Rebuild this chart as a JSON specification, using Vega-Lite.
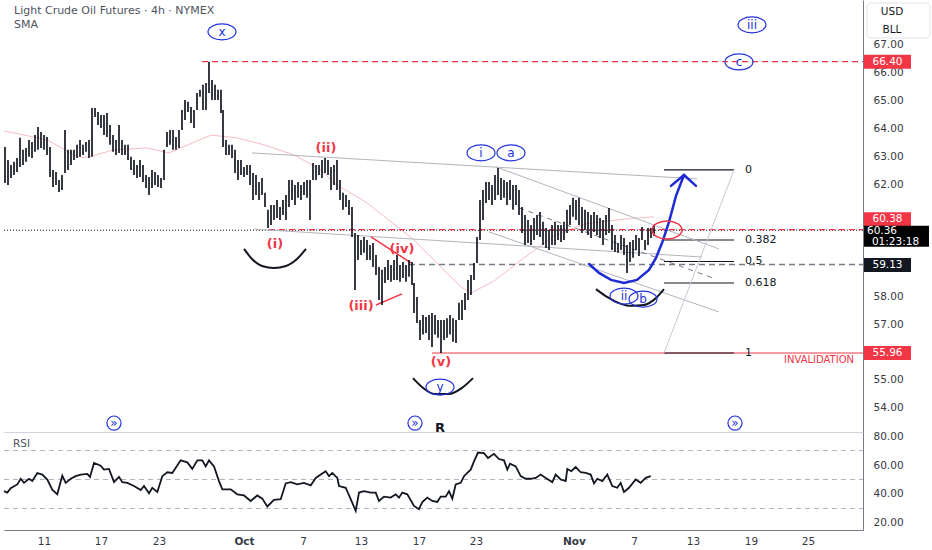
{
"$schema":"https://vega.github.io/schema/vega-lite/v6.json",
"padding":0,
"autosize":{"type":"pad"},
"background":"white",
"bounds":"flush",
"spacing":0,
"config":{"view":{"stroke":null},"axis":{"labelFont":"DejaVu Sans","labelFontSize":10.5,"labelColor":"#363a45"},"text":{"font":"DejaVu Sans"}},
"datasets":{
"bars":[
{"t":0.1,"p":62.05,"p2":63.34},{"t":0.4,"p":61.98,"p2":62.88},{"t":0.7,"p":62.23,"p2":62.70},{"t":1.0,"p":62.34,"p2":62.81},{"t":1.3,"p":62.45,"p2":62.95},{"t":1.6,"p":62.63,"p2":63.67},{"t":1.9,"p":62.70,"p2":63.24},{"t":2.2,"p":62.81,"p2":63.31},{"t":2.5,"p":62.99,"p2":63.59},{"t":2.8,"p":62.95,"p2":63.52},{"t":3.1,"p":63.17,"p2":63.77},{"t":3.4,"p":63.24,"p2":64.06},{"t":3.7,"p":63.31,"p2":63.88},{"t":4.0,"p":63.24,"p2":63.77},{"t":4.3,"p":63.06,"p2":63.70},{"t":4.6,"p":62.27,"p2":63.34},{"t":4.9,"p":61.91,"p2":62.52},{"t":5.2,"p":61.98,"p2":62.45},{"t":5.5,"p":61.73,"p2":62.16},{"t":5.8,"p":61.80,"p2":62.34},
{"t":6.1,"p":62.41,"p2":63.95},{"t":6.4,"p":62.52,"p2":63.24},{"t":6.7,"p":62.70,"p2":63.24},{"t":7.0,"p":62.88,"p2":63.24},{"t":7.3,"p":62.95,"p2":63.42},{"t":7.6,"p":62.99,"p2":63.59},{"t":7.9,"p":63.06,"p2":63.42},{"t":8.2,"p":63.17,"p2":63.52},{"t":8.5,"p":62.95,"p2":63.59},{"t":8.8,"p":62.99,"p2":64.74},
{"t":9.1,"p":64.42,"p2":64.74},{"t":9.4,"p":64.13,"p2":64.60},{"t":9.7,"p":64.02,"p2":64.49},{"t":10.0,"p":63.77,"p2":64.49},{"t":10.3,"p":63.70,"p2":64.56},{"t":10.6,"p":63.42,"p2":64.13},{"t":10.9,"p":63.17,"p2":63.77},{"t":11.2,"p":63.06,"p2":63.59},{"t":11.5,"p":63.13,"p2":64.13},{"t":11.8,"p":63.06,"p2":63.59},{"t":12.1,"p":63.06,"p2":63.42},{"t":12.4,"p":62.88,"p2":63.42},{"t":12.7,"p":62.52,"p2":62.99},{"t":13.0,"p":62.34,"p2":62.88},{"t":13.3,"p":62.23,"p2":62.70},{"t":13.6,"p":62.27,"p2":62.88},{"t":13.9,"p":62.09,"p2":62.70},{"t":14.2,"p":61.87,"p2":62.34},{"t":14.5,"p":61.62,"p2":62.27},{"t":14.8,"p":61.87,"p2":62.52},{"t":15.1,"p":61.98,"p2":62.45},{"t":15.4,"p":61.91,"p2":62.34},{"t":15.7,"p":61.87,"p2":62.23},
{"t":16.0,"p":62.16,"p2":63.24},{"t":16.3,"p":63.34,"p2":63.88},{"t":16.6,"p":63.42,"p2":63.95},{"t":16.9,"p":63.24,"p2":63.95},{"t":17.2,"p":63.24,"p2":63.70},{"t":17.5,"p":63.31,"p2":63.95},{"t":17.8,"p":63.95,"p2":64.67},{"t":18.1,"p":64.31,"p2":65.03},{"t":18.4,"p":64.60,"p2":64.96},{"t":18.7,"p":64.20,"p2":64.78},{"t":19.0,"p":64.02,"p2":64.67},{"t":19.3,"p":64.67,"p2":65.28},{"t":19.6,"p":65.14,"p2":65.39},{"t":19.9,"p":64.67,"p2":65.57},{"t":20.2,"p":64.67,"p2":65.64},{"t":20.5,"p":65.28,"p2":66.40},
{"t":20.8,"p":65.03,"p2":65.74},{"t":21.1,"p":65.03,"p2":65.57},{"t":21.4,"p":65.03,"p2":65.39},{"t":21.7,"p":64.56,"p2":65.39},{"t":21.9,"p":63.34,"p2":64.67},{"t":22.2,"p":63.06,"p2":63.59},{"t":22.5,"p":63.06,"p2":63.42},{"t":22.8,"p":62.95,"p2":63.42},{"t":23.1,"p":62.41,"p2":63.24},{"t":23.4,"p":62.16,"p2":62.88},{"t":23.7,"p":62.34,"p2":62.88},{"t":24.0,"p":62.27,"p2":62.63},{"t":24.3,"p":62.34,"p2":62.70},{"t":24.6,"p":61.98,"p2":62.70},{"t":24.9,"p":61.44,"p2":62.41},{"t":25.2,"p":61.62,"p2":62.34},{"t":25.5,"p":61.44,"p2":62.09},{"t":25.8,"p":61.62,"p2":62.23},{"t":26.1,"p":61.19,"p2":61.70},{"t":26.4,"p":60.44,"p2":61.09},{"t":26.7,"p":60.55,"p2":61.26},
{"t":27.0,"p":60.73,"p2":61.26},{"t":27.3,"p":60.80,"p2":61.44},{"t":27.6,"p":60.73,"p2":61.19},{"t":27.9,"p":60.91,"p2":61.44},{"t":28.2,"p":60.73,"p2":61.62},{"t":28.5,"p":61.19,"p2":62.16},{"t":28.8,"p":61.44,"p2":62.16},{"t":29.1,"p":61.26,"p2":61.98},{"t":29.4,"p":61.52,"p2":62.09},{"t":29.7,"p":61.44,"p2":61.98},{"t":30.0,"p":61.62,"p2":62.09},{"t":30.3,"p":61.52,"p2":62.16},{"t":30.6,"p":60.73,"p2":62.16},{"t":30.9,"p":62.16,"p2":62.77},{"t":31.2,"p":62.16,"p2":62.70},{"t":31.5,"p":62.34,"p2":62.70},{"t":31.8,"p":62.23,"p2":62.88},{"t":32.1,"p":62.41,"p2":62.95},{"t":32.4,"p":62.34,"p2":62.88},{"t":32.7,"p":61.80,"p2":62.63},
{"t":33.0,"p":61.98,"p2":62.70},{"t":33.3,"p":61.80,"p2":62.88},{"t":33.6,"p":61.44,"p2":62.16},{"t":33.9,"p":61.09,"p2":61.70},{"t":34.2,"p":61.19,"p2":61.62},{"t":34.5,"p":60.91,"p2":61.44},{"t":34.8,"p":60.12,"p2":61.19},{"t":35.1,"p":58.22,"p2":60.26},{"t":35.4,"p":59.29,"p2":60.19},{"t":35.7,"p":59.47,"p2":60.01},{"t":36.0,"p":59.55,"p2":60.12},{"t":36.3,"p":59.29,"p2":60.01},{"t":36.6,"p":59.29,"p2":59.83},{"t":36.9,"p":59.04,"p2":59.90},{"t":37.2,"p":58.76,"p2":59.47},{"t":37.5,"p":57.86,"p2":59.04},{"t":37.8,"p":57.68,"p2":58.94},{"t":38.1,"p":58.47,"p2":59.04},{"t":38.4,"p":58.58,"p2":59.29},{"t":38.7,"p":58.51,"p2":59.11},{"t":39.0,"p":58.58,"p2":59.29},{"t":39.3,"p":58.58,"p2":59.47},{"t":39.6,"p":58.51,"p2":59.11},{"t":39.9,"p":58.65,"p2":59.22},{"t":40.2,"p":58.51,"p2":59.11},{"t":40.5,"p":58.69,"p2":59.29},{"t":40.8,"p":58.40,"p2":59.22},{"t":41.0,"p":57.39,"p2":58.47},
{"t":41.3,"p":57.04,"p2":57.97},{"t":41.6,"p":56.43,"p2":57.14},{"t":41.9,"p":56.62,"p2":57.32},{"t":42.2,"p":56.68,"p2":57.25},{"t":42.5,"p":56.43,"p2":57.32},{"t":42.8,"p":56.18,"p2":57.39},{"t":43.1,"p":56.62,"p2":57.32},{"t":43.4,"p":56.51,"p2":57.14},{"t":43.7,"p":55.96,"p2":57.14},{"t":44.0,"p":56.43,"p2":57.14},{"t":44.3,"p":56.51,"p2":57.21},{"t":44.6,"p":56.62,"p2":57.32},{"t":44.9,"p":56.36,"p2":57.21},{"t":45.2,"p":56.32,"p2":57.14},{"t":45.5,"p":57.14,"p2":57.76},{"t":45.8,"p":57.14,"p2":57.86},{"t":46.1,"p":57.50,"p2":58.11},{"t":46.4,"p":57.86,"p2":58.58},{"t":46.7,"p":58.04,"p2":58.76},{"t":47.0,"p":58.58,"p2":59.19},{"t":47.3,"p":59.19,"p2":60.12},
{"t":47.6,"p":60.01,"p2":61.44},{"t":47.9,"p":60.73,"p2":61.80},{"t":48.2,"p":61.34,"p2":62.09},{"t":48.5,"p":61.44,"p2":62.09},{"t":48.8,"p":61.26,"p2":61.98},{"t":49.1,"p":61.44,"p2":62.34},{"t":49.4,"p":61.62,"p2":62.59},{"t":49.7,"p":61.44,"p2":62.23},{"t":50.0,"p":61.52,"p2":62.16},{"t":50.3,"p":61.26,"p2":62.09},{"t":50.6,"p":61.44,"p2":62.16},{"t":50.9,"p":61.09,"p2":61.98},{"t":51.2,"p":61.26,"p2":61.98},{"t":51.5,"p":60.91,"p2":61.80},{"t":51.8,"p":60.26,"p2":61.19},{"t":52.1,"p":59.83,"p2":60.91},
{"t":52.4,"p":59.90,"p2":60.73},{"t":52.7,"p":59.83,"p2":60.55},{"t":53.0,"p":60.01,"p2":60.80},{"t":53.3,"p":60.19,"p2":60.91},{"t":53.6,"p":60.12,"p2":61.01},{"t":53.9,"p":59.83,"p2":60.66},{"t":54.2,"p":59.72,"p2":60.44},{"t":54.5,"p":59.65,"p2":60.37},{"t":54.8,"p":59.83,"p2":60.55},{"t":55.1,"p":59.83,"p2":60.66},{"t":55.4,"p":60.01,"p2":60.55},{"t":55.7,"p":59.94,"p2":60.55},{"t":56.0,"p":60.01,"p2":60.66},{"t":56.3,"p":60.26,"p2":61.09},{"t":56.6,"p":60.55,"p2":61.26},{"t":56.9,"p":60.84,"p2":61.52},{"t":57.2,"p":60.73,"p2":61.44},{"t":57.5,"p":60.55,"p2":61.52},{"t":57.8,"p":60.26,"p2":61.19},{"t":58.1,"p":60.37,"p2":61.09},{"t":58.4,"p":60.19,"p2":61.01},{"t":58.7,"p":60.08,"p2":60.91},{"t":59.0,"p":60.30,"p2":61.01},{"t":59.3,"p":60.19,"p2":60.91},{"t":59.6,"p":60.08,"p2":60.80},{"t":59.9,"p":59.83,"p2":60.73},{"t":60.2,"p":60.19,"p2":60.91},{"t":60.5,"p":60.26,"p2":61.16},{"t":60.8,"p":59.65,"p2":60.55},{"t":61.1,"p":59.58,"p2":60.19},{"t":61.4,"p":59.55,"p2":59.90},{"t":61.7,"p":59.65,"p2":60.19},{"t":62.0,"p":59.47,"p2":60.08},{"t":62.3,"p":58.83,"p2":59.83},{"t":62.6,"p":59.22,"p2":59.94},{"t":62.9,"p":59.37,"p2":60.01},{"t":63.2,"p":59.65,"p2":60.19},{"t":63.5,"p":59.44,"p2":60.08},{"t":63.8,"p":60.01,"p2":60.48},{"t":64.1,"p":59.65,"p2":60.01},{"t":64.4,"p":59.83,"p2":60.44},{"t":64.7,"p":60.08,"p2":60.44},{"t":65.0,"p":60.15,"p2":60.55}
],
"sma":[
{"t":0,"p":63.92},{"t":4.3,"p":63.60},{"t":7.0,"p":63.06},{"t":8.0,"p":62.95},{"t":11.0,"p":63.24},{"t":14.3,"p":63.31},{"t":16.5,"p":63.13},{"t":20.7,"p":63.77},{"t":23.3,"p":63.67},{"t":26.0,"p":63.42},{"t":29.0,"p":63.06},{"t":31.7,"p":62.52},{"t":33.0,"p":62.05},{"t":36.3,"p":61.34},{"t":41.0,"p":60.01},{"t":45.7,"p":58.33},{"t":46.7,"p":58.11},{"t":49.0,"p":58.54},{"t":52.0,"p":59.37},{"t":55.0,"p":60.15},{"t":58.0,"p":60.58},{"t":62.0,"p":60.76},{"t":65.0,"p":60.84}
],
"rsi":[
{"t":0,"v":42},{"t":0.33,"v":41},{"t":0.67,"v":44},{"t":1.33,"v":46.6},{"t":1.67,"v":50.5},{"t":2.0,"v":47.7},{"t":2.5,"v":50.5},{"t":2.83,"v":49},{"t":3.33,"v":54.5},{"t":3.83,"v":53.4},{"t":4.33,"v":50},{"t":4.83,"v":43},{"t":5.33,"v":39.8},{"t":5.83,"v":52.7},{"t":6.17,"v":47.7},{"t":6.67,"v":50.5},{"t":7.17,"v":52.3},{"t":7.67,"v":53.4},{"t":8.33,"v":53.9},{"t":8.6,"v":51.8},{"t":9.0,"v":61.4},{"t":9.67,"v":59.5},{"t":10.0,"v":56.8},{"t":10.5,"v":57.3},{"t":11.0,"v":48.2},{"t":11.5,"v":51.8},{"t":11.83,"v":48.2},{"t":12.33,"v":47.7},{"t":13.0,"v":45.5},{"t":13.67,"v":42.7},{"t":14.0,"v":45.5},{"t":14.5,"v":40.5},{"t":14.83,"v":44.3},{"t":15.33,"v":41.4},{"t":15.83,"v":52.3},{"t":16.33,"v":55},{"t":16.83,"v":54.5},{"t":17.67,"v":63.2},{"t":18.33,"v":61.8},{"t":18.83,"v":57.3},{"t":19.33,"v":63.2},{"t":19.83,"v":63.2},{"t":20.17,"v":59},{"t":20.5,"v":63.2},{"t":21.0,"v":59},{"t":21.5,"v":48.9},{"t":21.83,"v":43.2},{"t":22.67,"v":43.2},{"t":23.33,"v":39.8},{"t":24.0,"v":39},{"t":24.67,"v":35.2},{"t":25.33,"v":39},{"t":25.83,"v":36.8},{"t":26.33,"v":31.4},{"t":27.0,"v":35.9},{"t":27.67,"v":36.4},{"t":28.17,"v":47.3},{"t":28.67,"v":48.2},{"t":29.33,"v":46.6},{"t":30.0,"v":47.7},{"t":30.67,"v":45.9},{"t":31.17,"v":51.1},{"t":31.67,"v":53.4},{"t":32.17,"v":55.7},{"t":32.5,"v":52.3},{"t":32.83,"v":54.5},{"t":33.33,"v":51.1},{"t":33.5,"v":45.5},{"t":34.17,"v":44.3},{"t":34.67,"v":36.4},{"t":35.17,"v":28.4},{"t":35.5,"v":41},{"t":36.0,"v":42},{"t":36.67,"v":41},{"t":37.17,"v":41},{"t":37.5,"v":35.2},{"t":38.0,"v":38.2},{"t":38.67,"v":37.5},{"t":39.17,"v":39.8},{"t":39.5,"v":37.5},{"t":39.83,"v":41},{"t":40.33,"v":39.8},{"t":41.0,"v":31.8},{"t":41.5,"v":29.5},{"t":41.83,"v":34.5},{"t":42.33,"v":37.5},{"t":42.83,"v":35.2},{"t":43.33,"v":34.5},{"t":43.67,"v":38.2},{"t":44.17,"v":38.2},{"t":44.5,"v":42},{"t":44.83,"v":36.8},{"t":45.17,"v":46.6},{"t":45.67,"v":47.7},{"t":46.0,"v":52.3},{"t":46.33,"v":54.5},{"t":46.67,"v":56.8},{"t":47.0,"v":62.5},{"t":47.4,"v":68.6},{"t":48.0,"v":68.2},{"t":48.4,"v":64.8},{"t":49.0,"v":67.7},{"t":49.5,"v":64.1},{"t":50.0,"v":63.2},{"t":50.33,"v":56.8},{"t":50.6,"v":60.9},{"t":51.17,"v":59},{"t":51.67,"v":52.3},{"t":52.17,"v":50.5},{"t":52.67,"v":50.5},{"t":53.17,"v":51.1},{"t":53.67,"v":53.4},{"t":54.17,"v":51.1},{"t":54.83,"v":48.2},{"t":55.17,"v":53.4},{"t":55.67,"v":50},{"t":56.17,"v":48.9},{"t":56.33,"v":57.3},{"t":56.73,"v":55.7},{"t":57.17,"v":58.6},{"t":57.67,"v":55},{"t":58.17,"v":54.5},{"t":58.67,"v":53.4},{"t":59.0,"v":47.3},{"t":59.33,"v":50.5},{"t":59.83,"v":48.9},{"t":60.33,"v":53.4},{"t":60.83,"v":45.5},{"t":61.33,"v":44.3},{"t":61.67,"v":47.7},{"t":62.0,"v":41.4},{"t":62.5,"v":44.3},{"t":63.17,"v":50},{"t":63.67,"v":47.7},{"t":64.17,"v":51.1},{"t":64.67,"v":52.3}
],
"hl":[
{"kind":"reddash","t":19.8,"t2":85.9,"p":66.40},
{"kind":"blackdot","t":0,"t2":85.9,"p":60.36},
{"kind":"reddash","t":26.5,"t2":85.9,"p":60.38},
{"kind":"greydash","t":40.5,"t2":85.9,"p":59.13},
{"kind":"redsolid","t":42.8,"t2":85.9,"p":55.96},
{"kind":"fib","t":66.0,"t2":73.0,"p":62.52},
{"kind":"fib","t":66.0,"t2":73.0,"p":60.01},
{"kind":"fib","t":66.0,"t2":73.0,"p":59.24},
{"kind":"fib","t":66.0,"t2":73.0,"p":58.47},
{"kind":"fib","t":66.0,"t2":73.0,"p":55.96}
],
"seg":[
{"kind":"grey","t":24.8,"p":63.13,"t2":69.3,"p2":62.20},
{"kind":"grey","t":25.0,"p":60.40,"t2":69.8,"p2":59.40},
{"kind":"grey","t":49.2,"p":62.63,"t2":71.5,"p2":59.69},
{"kind":"grey","t":48.5,"p":60.30,"t2":71.5,"p2":57.43},
{"kind":"diag","t":66.0,"p":55.96,"t2":73.0,"p2":62.52},
{"kind":"greyd","t":51.5,"p":61.16,"t2":71.2,"p2":58.61},
{"kind":"red","t":36.7,"p":60.12,"t2":40.7,"p2":59.19},
{"kind":"red","t":37.2,"p":57.68,"t2":39.8,"p2":58.08}
],
"paths":[
{"kind":"black","id":"a1","k":1,"t":24.0,"p":59.69},{"kind":"black","id":"a1","k":2,"t":24.8,"p":59.33},{"kind":"black","id":"a1","k":3,"t":25.8,"p":59.08},{"kind":"black","id":"a1","k":4,"t":27.0,"p":59.01},{"kind":"black","id":"a1","k":5,"t":28.2,"p":59.08},{"kind":"black","id":"a1","k":6,"t":29.3,"p":59.33},{"kind":"black","id":"a1","k":7,"t":30.2,"p":59.69},
{"kind":"black","id":"a2","k":1,"t":40.9,"p":55.06},{"kind":"black","id":"a2","k":2,"t":41.9,"p":54.71},{"kind":"black","id":"a2","k":3,"t":43.1,"p":54.49},{"kind":"black","id":"a2","k":4,"t":44.5,"p":54.49},{"kind":"black","id":"a2","k":5,"t":45.8,"p":54.71},{"kind":"black","id":"a2","k":6,"t":46.9,"p":55.06},
{"kind":"black","id":"a3","k":1,"t":59.2,"p":58.25},{"kind":"black","id":"a3","k":2,"t":60.3,"p":57.97},{"kind":"black","id":"a3","k":3,"t":61.5,"p":57.75},{"kind":"black","id":"a3","k":4,"t":62.7,"p":57.65},{"kind":"black","id":"a3","k":5,"t":64.0,"p":57.68},{"kind":"black","id":"a3","k":6,"t":65.1,"p":57.90},{"kind":"black","id":"a3","k":7,"t":66.0,"p":58.25},
{"kind":"blue","id":"b1","k":1,"t":58.5,"p":59.15},{"kind":"blue","id":"b1","k":2,"t":59.5,"p":58.83},{"kind":"blue","id":"b1","k":3,"t":60.7,"p":58.58},{"kind":"blue","id":"b1","k":4,"t":62.0,"p":58.47},{"kind":"blue","id":"b1","k":5,"t":63.3,"p":58.58},{"kind":"blue","id":"b1","k":6,"t":64.5,"p":58.94},{"kind":"blue","id":"b1","k":7,"t":65.2,"p":59.37},{"kind":"blue","id":"b1","k":8,"t":65.8,"p":59.90},{"kind":"blue","id":"b1","k":9,"t":66.5,"p":60.66},{"kind":"blue","id":"b1","k":10,"t":67.2,"p":61.59},{"kind":"blue","id":"b1","k":11,"t":68.0,"p":62.34},
{"kind":"blue","id":"b2","k":1,"t":66.7,"p":61.95},{"kind":"blue","id":"b2","k":2,"t":68.0,"p":62.34},{"kind":"blue","id":"b2","k":3,"t":69.2,"p":61.95}
],
"blue":[
{"t":21.8,"p":67.47,"s":"x"},{"t":74.8,"p":67.72,"s":"iii"},{"t":73.5,"p":66.39,"s":"c"},{"t":47.7,"p":63.13,"s":"i"},{"t":50.7,"p":63.13,"s":"a"},{"t":43.6,"p":54.74,"s":"y"},{"t":62.0,"p":58.00,"s":"ii"},{"t":63.9,"p":57.89,"s":"b"}
],
"red":[
{"t":27.1,"p":59.87,"s":"(i)"},{"t":32.2,"p":63.31,"s":"(ii)"},{"t":35.7,"p":57.65,"s":"(iii)"},{"t":39.8,"p":59.69,"s":"(iv)"},{"t":43.7,"p":55.64,"s":"(v)"}
],
"fib":[
{"t":74.1,"p":62.52,"s":"0"},{"t":74.1,"p":60.01,"s":"0.382"},{"t":74.1,"p":59.24,"s":"0.5"},{"t":74.1,"p":58.47,"s":"0.618"},{"t":74.1,"p":55.96,"s":"1"}
],
"notes":[
{"t":1.0,"p":68.22,"s":"Light Crude Oil Futures · 4h · NYMEX"},{"t":1.0,"p":67.70,"s":"SMA"}
],
"icons":[{"t":11.0,"p":53.45},{"t":41.1,"p":53.45},{"t":73.1,"p":53.45}],
"tagbox":[
{"kind":"red","t":88.35,"p":66.40},{"kind":"red","t":88.35,"p":60.75},{"kind":"red","t":88.35,"p":55.96},{"kind":"dark","t":88.35,"p":59.11},{"kind":"black","t":89.25,"p":60.14}
],
"tagtext":[
{"t":88.35,"p":66.40,"s":"66.40"},{"t":88.35,"p":60.75,"s":"60.38"},{"t":88.35,"p":55.96,"s":"55.96"},{"t":88.35,"p":59.11,"s":"59.13"},{"t":87.8,"p":60.33,"s":"60.36"},{"t":89.15,"p":59.94,"s":"01:23:18"}
]
},
"vconcat":[
{
"width":859,"height":432,
"encoding":{
"x":{"field":"t","type":"quantitative","scale":{"domain":[0,85.9],"nice":false,"zero":false},"axis":{"labels":false,"ticks":false,"grid":false,"domainColor":"#d1d4dc","title":null}},
"y":{"field":"p","type":"quantitative","scale":{"domain":[53.13,68.61],"nice":false,"zero":false},"axis":{"orient":"right","values":[54,55,57,58,62,63,64,65,66,67],"format":".2f","ticks":false,"grid":false,"labelPadding":10,"domainColor":"#787b86","title":null}}
},
"layer":[
{"data":{"name":"sma"},"mark":{"type":"line","color":"#f2a0a8","strokeWidth":1,"opacity":0.7}},
{"data":{"name":"hl"},"transform":[{"filter":"datum.kind=='blackdot'"}],"mark":{"type":"rule","color":"#131722","strokeDash":[1,2],"strokeWidth":1},"encoding":{"x2":{"field":"t2"}}},
{"data":{"name":"hl"},"transform":[{"filter":"datum.kind=='reddash'"}],"mark":{"type":"rule","color":"#f23645","strokeDash":[6,4],"strokeWidth":1.2},"encoding":{"x2":{"field":"t2"}}},
{"data":{"name":"hl"},"transform":[{"filter":"datum.kind=='greydash'"}],"mark":{"type":"rule","color":"#787b86","strokeDash":[6,4],"strokeWidth":1.5},"encoding":{"x2":{"field":"t2"}}},
{"data":{"name":"hl"},"transform":[{"filter":"datum.kind=='redsolid'"}],"mark":{"type":"rule","color":"#f23645","strokeWidth":1},"encoding":{"x2":{"field":"t2"}}},
{"data":{"name":"hl"},"transform":[{"filter":"datum.kind=='fib'"}],"mark":{"type":"rule","color":"#131722","strokeWidth":1.2},"encoding":{"x2":{"field":"t2"}}},
{"data":{"name":"seg"},"transform":[{"filter":"datum.kind=='grey'"}],"mark":{"type":"rule","color":"#b2b5be","strokeWidth":1},"encoding":{"x2":{"field":"t2"},"y2":{"field":"p2"}}},
{"data":{"name":"seg"},"transform":[{"filter":"datum.kind=='diag'"}],"mark":{"type":"rule","color":"#c8cad0","strokeWidth":1},"encoding":{"x2":{"field":"t2"},"y2":{"field":"p2"}}},
{"data":{"name":"seg"},"transform":[{"filter":"datum.kind=='greyd'"}],"mark":{"type":"rule","color":"#787b86","strokeDash":[5,5],"strokeWidth":1},"encoding":{"x2":{"field":"t2"},"y2":{"field":"p2"}}},
{"data":{"name":"seg"},"transform":[{"filter":"datum.kind=='red'"}],"mark":{"type":"rule","color":"#f23645","strokeWidth":1.5},"encoding":{"x2":{"field":"t2"},"y2":{"field":"p2"}}},
{"data":{"name":"bars"},"mark":{"type":"rule","color":"#131722","strokeWidth":1.7},"encoding":{"y2":{"field":"p2"}}},
{"data":{"name":"paths"},"transform":[{"filter":"datum.kind=='black'"}],"mark":{"type":"line","color":"#131722","strokeWidth":2,"interpolate":"monotone"},"encoding":{"detail":{"field":"id"},"order":{"field":"k","type":"quantitative"}}},
{"data":{"name":"paths"},"transform":[{"filter":"datum.kind=='blue'"}],"mark":{"type":"line","color":"#1f2bd6","strokeWidth":2.5,"strokeCap":"round"},"encoding":{"detail":{"field":"id"},"order":{"field":"k","type":"quantitative"}}},
{"data":{"name":"blue"},"mark":{"type":"point","shape":"M-1.75,0A1.75,1,0,1,0,1.75,0A1.75,1,0,1,0,-1.75,0Z","size":256,"filled":false,"stroke":"#2233dd","strokeWidth":1.2,"opacity":1}},
{"data":{"name":"blue"},"mark":{"type":"text","color":"#2233dd","fontSize":12,"baseline":"middle"},"encoding":{"text":{"field":"s"}}},
{"data":{"values":[{"t":66.3,"p":60.37}]},"mark":{"type":"point","shape":"M-1.67,0A1.67,1,0,1,0,1.67,0A1.67,1,0,1,0,-1.67,0Z","size":324,"filled":false,"stroke":"#f23645","strokeWidth":1.5,"opacity":1}},
{"data":{"name":"red"},"mark":{"type":"text","color":"#f23645","fontSize":13,"fontWeight":"bold","baseline":"middle"},"encoding":{"text":{"field":"s"}}},
{"data":{"name":"fib"},"mark":{"type":"text","color":"#131722","fontSize":11,"align":"left","baseline":"middle"},"encoding":{"text":{"field":"s"}}},
{"data":{"name":"notes"},"mark":{"type":"text","color":"#50535e","fontSize":11,"align":"left","baseline":"middle"},"encoding":{"text":{"field":"s"}}},
{"data":{"values":[{"t":85.0,"p":55.71,"s":"INVALIDATION"}]},"mark":{"type":"text","color":"#f23645","fontSize":10,"align":"right","baseline":"middle"},"encoding":{"text":{"field":"s"}}},
{"data":{"values":[{"t":43.6,"p":53.27,"s":"R"}]},"mark":{"type":"text","color":"#131722","fontSize":13,"fontWeight":"bold","baseline":"middle"},"encoding":{"text":{"field":"s"}}},
{"data":{"name":"icons"},"mark":{"type":"point","shape":"circle","size":200,"filled":false,"stroke":"#2233dd","strokeWidth":1.2,"opacity":1}},
{"data":{"name":"icons"},"mark":{"type":"text","text":"»","color":"#2233dd","fontSize":12,"baseline":"middle"}},
{"data":{"values":[{"t":86.3,"t2":92.6,"p":68.50,"p2":67.25}]},"mark":{"type":"rect","fill":"white","stroke":"#e0e3eb","strokeWidth":1,"cornerRadius":4},"encoding":{"x2":{"field":"t2"},"y2":{"field":"p2"}}},
{"data":{"values":[{"t":88.8,"p":68.18,"s":"USD"},{"t":88.8,"p":67.54,"s":"BLL"}]},"mark":{"type":"text","color":"#131722","fontSize":10.5,"baseline":"middle"},"encoding":{"text":{"field":"s"}}},
{"data":{"name":"tagbox"},"transform":[{"filter":"datum.kind=='red'"}],"mark":{"type":"point","shape":"M-1.68,-0.5H1.68V0.5H-1.68Z","size":784,"filled":true,"color":"#f23645","opacity":1}},
{"data":{"name":"tagbox"},"transform":[{"filter":"datum.kind=='dark'"}],"mark":{"type":"point","shape":"M-1.68,-0.5H1.68V0.5H-1.68Z","size":784,"filled":true,"color":"#131722","opacity":1}},
{"data":{"name":"tagbox"},"transform":[{"filter":"datum.kind=='black'"}],"mark":{"type":"point","shape":"M-2.32,-0.75H2.32V0.75H-2.32Z","size":784,"filled":true,"color":"#000000","opacity":1}},
{"data":{"name":"tagtext"},"mark":{"type":"text","color":"white","fontSize":10.5,"baseline":"middle"},"encoding":{"text":{"field":"s"}}}
]
},
{
"width":859,"height":98,
"encoding":{
"x":{"field":"t","type":"quantitative","scale":{"domain":[0,85.9],"nice":false,"zero":false},"axis":{"values":[4,9.7,15.5,24,29.9,35.7,41.5,47.2,57,63,68.9,74.7,80.4],"labelExpr":"['11','17','23','Oct','7','13','17','23','Nov','7','13','19','25'][indexof([4,9.7,15.5,24,29.9,35.7,41.5,47.2,57,63,68.9,74.7,80.4], datum.value)]","ticks":false,"grid":false,"labelPadding":6,"domainColor":"#787b86","title":null,"labelFontWeight":{"condition":{"test":"datum.value==24||datum.value==57","value":"bold"},"value":"normal"}}},
"y":{"field":"v","type":"quantitative","scale":{"domain":[15.17,82.76],"nice":false,"zero":false},"axis":{"orient":"right","values":[20,40,60,80],"format":".2f","ticks":false,"grid":false,"labelPadding":10,"domainColor":"#787b86","title":null}}
},
"layer":[
{"data":{"values":[{"t":0,"t2":85.9,"v":70},{"t":0,"t2":85.9,"v":50},{"t":0,"t2":85.9,"v":30}]},"mark":{"type":"rule","color":"#b2b5be","strokeDash":[5,4],"strokeWidth":1},"encoding":{"x2":{"field":"t2"}}},
{"data":{"name":"rsi"},"mark":{"type":"line","color":"#131722","strokeWidth":1.8}},
{"data":{"values":[{"t":0.9,"v":74.3,"s":"RSI"}]},"mark":{"type":"text","align":"left","fontSize":10.5,"color":"#50535e","baseline":"middle"},"encoding":{"text":{"field":"s"}}}
]
}
]
}
